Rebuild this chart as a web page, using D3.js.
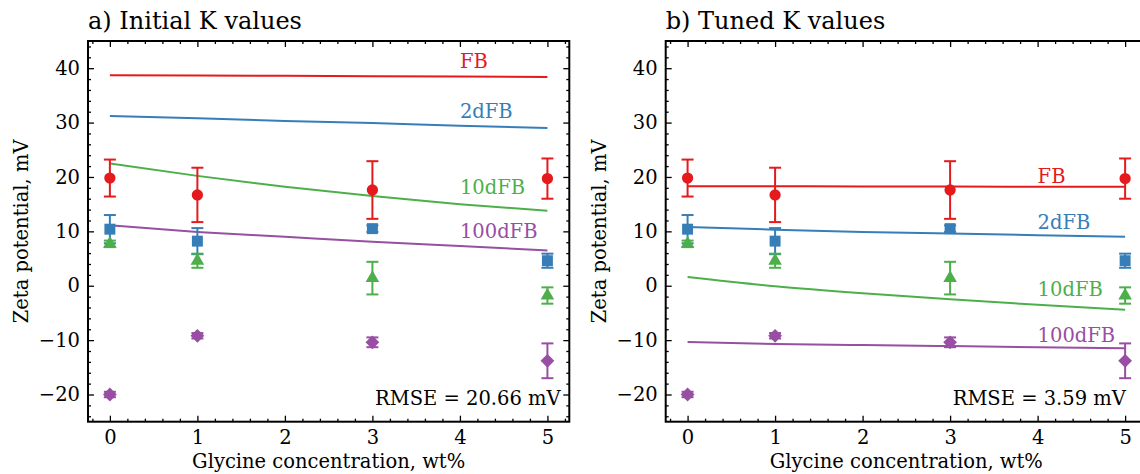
<!DOCTYPE html>
<html>
<head>
<meta charset="utf-8">
<script src="https://cdn.jsdelivr.net/npm/d3@7"></script>
<style>
  body { margin: 0; background: #fff; }
  text { font-family: "DejaVu Serif", serif; }
</style>
</head>
<body>
<svg id="chart" width="1140" height="474"></svg>
<script>
// ---- data ----
const concentrations = [0, 1, 3, 5]; // wt%
const seriesNames = ["FB", "2dFB", "10dFB", "100dFB"];
const seriesColors = ["#e41a1c", "#377eb8", "#4daf4a", "#984ea3"];

// measured zeta potential (mV) and error
const zetaFB = [19.8, 16.7, 17.6, 19.7];
const errFB = [3.4, 5.0, 5.3, 3.7];
const zeta2dFB = [10.4, 8.2, 10.5, 4.6];
const err2dFB = [2.6, 2.4, 0.6, 1.3];
const zeta10dFB = [7.7, 4.6, 1.4, -1.8];
const err10dFB = [0.6, 1.3, 3.0, 1.5];
const zeta100dFB = [-20.0, -9.2, -10.4, -13.8];
const err100dFB = [0.5, 0.5, 0.9, 3.2];

// model curves
const modelX = [0, 1, 2, 3, 4, 5];
const initialFB = [38.7, 38.65, 38.6, 38.5, 38.45, 38.4];
const initial2dFB = [31.2, 30.8, 30.3, 29.9, 29.4, 29.0];
const initial10dFB = [22.5, 20.2, 18.2, 16.5, 15.0, 13.8];
const initial100dFB = [11.1, 9.9, 9.0, 8.1, 7.3, 6.5];
const tunedFB = [18.3, 18.3, 18.25, 18.25, 18.2, 18.2];
const tuned2dFB = [10.8, 10.3, 9.9, 9.6, 9.3, 9.0];
const tuned10dFB = [1.6, -0.1, -1.4, -2.5, -3.5, -4.4];
const tuned100dFB = [-10.35, -10.7, -10.9, -11.1, -11.3, -11.5];

// label positions (data coords)
const labelX = 4.0;
const initialLabelY = [40.0, 30.9, 16.8, 8.8];
const tunedLabelY = [18.9, 10.5, -1.9, -10.3];

const panelTitles = ["a) Initial K values", "b) Tuned K values"];
const rmseTexts = ["RMSE = 20.66 mV", "RMSE = 3.59 mV"];
const xTicks = [0, 1, 2, 3, 4, 5];
const yTicks = [-20, -10, 0, 10, 20, 30, 40];

const measured = [zetaFB, zeta2dFB, zeta10dFB, zeta100dFB];
const errors = [errFB, err2dFB, err10dFB, err100dFB];
const models = [
  [initialFB, initial2dFB, initial10dFB, initial100dFB],
  [tunedFB, tuned2dFB, tuned10dFB, tuned100dFB]
];
const labelYs = [initialLabelY, tunedLabelY];

// ---- layout ----
const svg = d3.select("#chart");
const fontSize = 19.5;
const panels = [
  {left: 88, right: 569.3},
  {left: 665.7, right: 1147}
];
const plotTop = 41, plotBottom = 421.7;

const symbols = [
  d3.symbol().type(d3.symbolCircle).size(100),
  d3.symbol().type(d3.symbolSquare).size(120),
  d3.symbol().type(d3.symbolTriangle).size(80),
  d3.symbol().type(d3.symbolSquare).size(95) // rotated to a diamond
];

function minorRange(a, b, step) {
  const out = [];
  for (let v = a; v <= b + 1e-9; v += step) out.push(+v.toFixed(3));
  return out;
}

panels.forEach((p, k) => {
  const x = d3.scaleLinear().domain([-0.25, 5.25]).range([p.left, p.right]);
  const y = d3.scaleLinear().domain([-25, 45]).range([plotBottom, plotTop]);
  const g = svg.append("g");

  // ticks, all inward
  const xMinor = minorRange(-0.2, 5.2, 0.2).filter(v => Math.abs(v - Math.round(v)) > 1e-6);
  const yMinor = minorRange(-24, 44, 2).filter(v => v % 10 !== 0);

  const axes = [
    [d3.axisBottom(x).tickValues(xTicks).tickSize(-6).tickPadding(8).tickFormat(d3.format("d")), plotBottom, "x"],
    [d3.axisBottom(x).tickValues(xMinor).tickSize(-3).tickFormat(""), plotBottom, "x"],
    [d3.axisTop(x).tickValues(xTicks).tickSize(-6).tickFormat(""), plotTop, "x"],
    [d3.axisTop(x).tickValues(xMinor).tickSize(-3).tickFormat(""), plotTop, "x"],
    [d3.axisLeft(y).tickValues(yTicks).tickSize(-6).tickPadding(8).tickFormat(d => d < 0 ? "\u2212" + Math.abs(d) : d), p.left, "y"],
    [d3.axisLeft(y).tickValues(yMinor).tickSize(-3).tickFormat(""), p.left, "y"],
    [d3.axisRight(y).tickValues(yTicks).tickSize(-6).tickFormat(""), p.right, "y"],
    [d3.axisRight(y).tickValues(yMinor).tickSize(-3).tickFormat(""), p.right, "y"]
  ];
  axes.forEach(([ax, pos, dir]) => {
    const a = g.append("g")
      .attr("transform", dir === "x" ? `translate(0,${pos})` : `translate(${pos},0)`)
      .call(ax.tickSizeOuter(0));
    a.select(".domain").remove();
    a.selectAll("line").attr("stroke", "#000").attr("stroke-width", 1.3);
    a.selectAll("text").attr("fill", "#000")
      .style("font-family", "DejaVu Serif").style("font-size", fontSize + "px");
  });

  // model curves
  const line = d3.line().x((d, i) => x(modelX[i])).y(d => y(d)).curve(d3.curveMonotoneX);
  models[k].forEach((m, s) => {
    g.append("path").attr("d", line(m))
      .attr("fill", "none").attr("stroke", seriesColors[s]).attr("stroke-width", 2);
  });

  // measured points with error bars
  measured.forEach((vals, s) => {
    const sg = g.append("g").attr("stroke", seriesColors[s]).attr("fill", seriesColors[s]);
    vals.forEach((v, i) => {
      const cx = x(concentrations[i]);
      const e = errors[s][i];
      sg.append("line").attr("x1", cx).attr("x2", cx).attr("y1", y(v - e)).attr("y2", y(v + e))
        .attr("stroke-width", 2);
      [v - e, v + e].forEach(c => {
        sg.append("line").attr("x1", cx - 6).attr("x2", cx + 6).attr("y1", y(c)).attr("y2", y(c))
          .attr("stroke-width", 2);
      });
      sg.append("path").attr("d", symbols[s]())
        .attr("stroke", "none")
        .attr("transform", `translate(${cx},${y(v)})` + (s === 3 ? " rotate(45)" : ""));
    });
  });

  // series labels
  seriesNames.forEach((name, s) => {
    g.append("text").attr("x", x(labelX)).attr("y", y(labelYs[k][s]))
      .attr("fill", seriesColors[s]).style("font-size", fontSize + "px").text(name);
  });

  // RMSE text
  g.append("text").attr("x", x(3.03)).attr("y", 405)
    .style("font-size", fontSize + "px").text(rmseTexts[k]);

  // frame
  g.append("rect").attr("x", p.left).attr("y", plotTop)
    .attr("width", p.right - p.left).attr("height", plotBottom - plotTop)
    .attr("fill", "none").attr("stroke", "#000").attr("stroke-width", 2);

  // titles and axis labels
  g.append("text").attr("x", p.left).attr("y", 29)
    .style("font-size", "24px").text(panelTitles[k]);
  g.append("text").attr("x", (p.left + p.right) / 2).attr("y", 468)
    .attr("text-anchor", "middle").style("font-size", fontSize + "px")
    .text("Glycine concentration, wt%");
  g.append("text")
    .attr("transform", `translate(${p.left - 60},${(plotTop + plotBottom) / 2}) rotate(-90)`)
    .attr("text-anchor", "middle").style("font-size", fontSize + "px")
    .text("Zeta potential, mV");
});
</script>
</body>
</html>
